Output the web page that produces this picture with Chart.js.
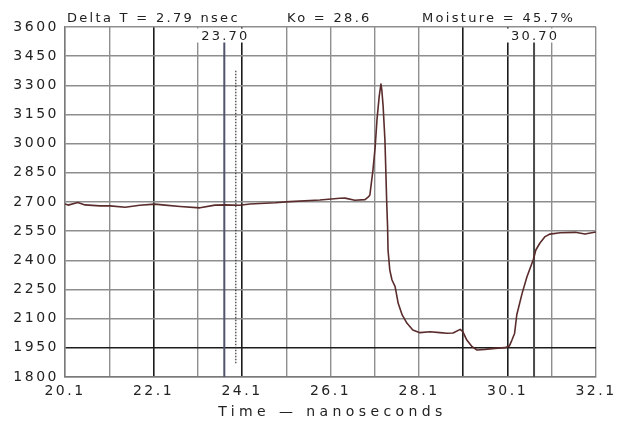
<!DOCTYPE html>
<html>
<head>
<meta charset="utf-8">
<script src="https://cdn.jsdelivr.net/npm/chart.js@4.4.1/dist/chart.umd.min.js"></script>
<style>
  html, body { margin: 0; padding: 0; background: #fff; }
  #wrap { width: 618px; height: 421px; }
</style>
</head>
<body>
<div id="wrap"><canvas id="c"></canvas></div>
<script>
// trace (time in ns, reflection amplitude)
const timeNs = [20.10, 20.17, 20.39, 20.55, 20.89, 21.12, 21.46, 21.79, 22.13, 22.36,
  22.70, 23.15, 23.49, 23.72, 24.05, 24.28, 24.85, 25.18, 25.86, 26.31,
  26.43, 26.65, 26.88, 26.95, 26.99, 27.06, 27.11, 27.15, 27.20, 27.24,
  27.26, 27.29, 27.33, 27.35, 27.37, 27.39, 27.40, 27.44, 27.49, 27.56,
  27.63, 27.72, 27.83, 27.96, 28.12, 28.35, 28.57, 28.73, 28.87, 29.03,
  29.09, 29.18, 29.30, 29.41, 29.59, 29.82, 30.04, 30.14, 30.20, 30.26,
  30.31, 30.43, 30.54, 30.68, 30.74, 30.83, 30.95, 31.06, 31.29, 31.63,
  31.85, 32.10];
const amplitude = [2690, 2684, 2697, 2685, 2680, 2680, 2673, 2683, 2689, 2684,
  2677, 2670, 2684, 2685, 2683, 2690, 2696, 2702, 2710, 2719,
  2720, 2709, 2712, 2725, 2736, 2865, 2984, 3122, 3242, 3307,
  3276, 3190, 3019, 2865, 2700, 2573, 2453, 2350, 2299, 2265,
  2179, 2119, 2076, 2042, 2028, 2033, 2028, 2025, 2026, 2045,
  2033, 1990, 1956, 1939, 1942, 1947, 1951, 1959, 1990, 2024,
  2120, 2230, 2316, 2402, 2453, 2488, 2522, 2535, 2542, 2544,
  2535, 2546];

const xGridValues = [20.1, 21.1, 22.1, 23.1, 24.1, 25.1, 26.1, 27.1, 28.1, 29.1, 30.1, 31.1, 32.1];
const xLabelValues = [20.1, 22.1, 24.1, 26.1, 28.1, 30.1, 32.1];
const xDarkLines = [22.1, 24.1, 29.1, 30.1];
const yDarkLines = [1950];
const cursors = [23.70, 30.70];
const dottedMark = { t: 23.96, from: 3375, to: 1870 };
const headerTexts = ['Delta T = 2.79 nsec', 'Ko = 28.6', 'Moisture = 45.7%'];
const axisTitle = 'Time \u2014 nanoseconds';

const FONT = '"DejaVu Sans", sans-serif';

const spacingPlugin = {
  id: 'spacing',
  beforeLayout: (chart) => { chart.ctx.letterSpacing = '2.5px'; },
  beforeDraw: (chart) => {
    const ctx = chart.ctx;
    ctx.save();
    ctx.fillStyle = '#ffffff';
    ctx.fillRect(0, 0, chart.width, chart.height);
    ctx.restore();
    ctx.letterSpacing = '2.5px';
  }
};

const cursorPlugin = {
  id: 'cursors',
  beforeDatasetsDraw: (chart) => {
    const ctx = chart.ctx;
    const xs = chart.scales.x;
    const ys = chart.scales.y;
    const area = chart.chartArea;
    ctx.save();
    // label boxes hide the grid under the cursor readouts
    for (const c of cursors) {
      const px = xs.getPixelForValue(c);
      ctx.fillStyle = '#ffffff';
      ctx.fillRect(px - 30, area.top + 1.5, 56, 14);
    }
    for (let i = 0; i < cursors.length; i++) {
      const px = xs.getPixelForValue(cursors[i]);
      ctx.strokeStyle = i == 0 ? '#50556c' : '#4a4a4a';
      ctx.lineWidth = 2;
      ctx.beginPath();
      ctx.moveTo(px, area.top + 15.5);
      ctx.lineTo(px, area.bottom);
      ctx.stroke();
      ctx.fillStyle = '#222';
      ctx.font = '13px ' + FONT;
      ctx.letterSpacing = '2.2px';
      ctx.textAlign = 'center';
      ctx.textBaseline = 'alphabetic';
      ctx.fillText(cursors[i].toFixed(2), px + 1, area.top + 13);
    }
    // dotted marker
    const dx = xs.getPixelForValue(dottedMark.t);
    ctx.strokeStyle = '#333';
    ctx.lineWidth = 1.2;
    ctx.setLineDash([1.5, 1.5]);
    ctx.beginPath();
    ctx.moveTo(dx, ys.getPixelForValue(dottedMark.from));
    ctx.lineTo(dx, ys.getPixelForValue(dottedMark.to));
    ctx.stroke();
    ctx.restore();
  }
};

const textPlugin = {
  id: 'texts',
  afterDraw: (chart) => {
    const ctx = chart.ctx;
    const area = chart.chartArea;
    ctx.save();
    ctx.fillStyle = '#222';
    ctx.textBaseline = 'alphabetic';
    ctx.textAlign = 'left';
    ctx.font = '13px ' + FONT;
    ctx.letterSpacing = '2.3px';
    const offs = [2, 222, 357];
    for (let i = 0; i < headerTexts.length; i++) {
      ctx.fillText(headerTexts[i], area.left + offs[i], area.top - 5);
    }
    ctx.font = '14px ' + FONT;
    ctx.letterSpacing = '4.4px';
    ctx.textAlign = 'center';
    ctx.fillText(axisTitle, (area.left + area.right) / 2 + 2, 416);
    ctx.restore();
  }
};

new Chart(document.getElementById('c'), {
  type: 'line',
  data: {
    datasets: [{
      data: timeNs.map((t, i) => ({ x: t, y: amplitude[i] })),
      borderColor: '#5a2c2c',
      borderWidth: 1.6,
      borderJoinStyle: 'round',
      pointRadius: 0,
      tension: 0,
      fill: false
    }]
  },
  options: {
    responsive: true,
    maintainAspectRatio: false,
    animation: false,
    events: [],
    layout: { padding: { left: 4, right: 22, top: 27, bottom: 0 } },
    plugins: {
      legend: { display: false },
      tooltip: { enabled: false }
    },
    scales: {
      x: {
        type: 'linear',
        min: 20.1,
        max: 32.1,
        afterBuildTicks: (scale) => {
          scale.ticks = xGridValues.map((v) => ({ value: v }));
        },
        afterFit: (scale) => {
          scale.height = 44;
          scale.paddingLeft = 0;
          scale.paddingRight = 0;
        },
        grid: {
          drawTicks: false,
          color: (c) => (c.tick && xDarkLines.includes(c.tick.value)) ? '#1c1c1c' : '#8e8e8e',
          lineWidth: (c) => (c.tick && xDarkLines.includes(c.tick.value)) ? 1.6 : 1.4
        },
        border: { color: '#7a7a7a', width: 1.5 },
        ticks: {
          autoSkip: false,
          maxRotation: 0,
          padding: 6,
          color: '#222',
          font: { family: FONT, size: 14 },
          callback: (v) => xLabelValues.includes(v) ? v.toFixed(1) : ''
        }
      },
      y: {
        min: 1800,
        max: 3600,
        afterFit: (scale) => {
          scale.width = 61;
          scale.paddingTop = 0;
          scale.paddingBottom = 0;
        },
        grid: {
          drawTicks: false,
          color: (c) => (c.tick && yDarkLines.includes(c.tick.value)) ? '#1c1c1c' : '#8e8e8e',
          lineWidth: (c) => (c.tick && yDarkLines.includes(c.tick.value)) ? 1.6 : 1.4
        },
        border: { color: '#7a7a7a', width: 1.5 },
        ticks: {
          stepSize: 150,
          padding: 6,
          color: '#222',
          font: { family: FONT, size: 14 },
          callback: (v) => String(v)
        }
      }
    }
  },
  plugins: [spacingPlugin, cursorPlugin, textPlugin]
});
</script>
</body>
</html>
